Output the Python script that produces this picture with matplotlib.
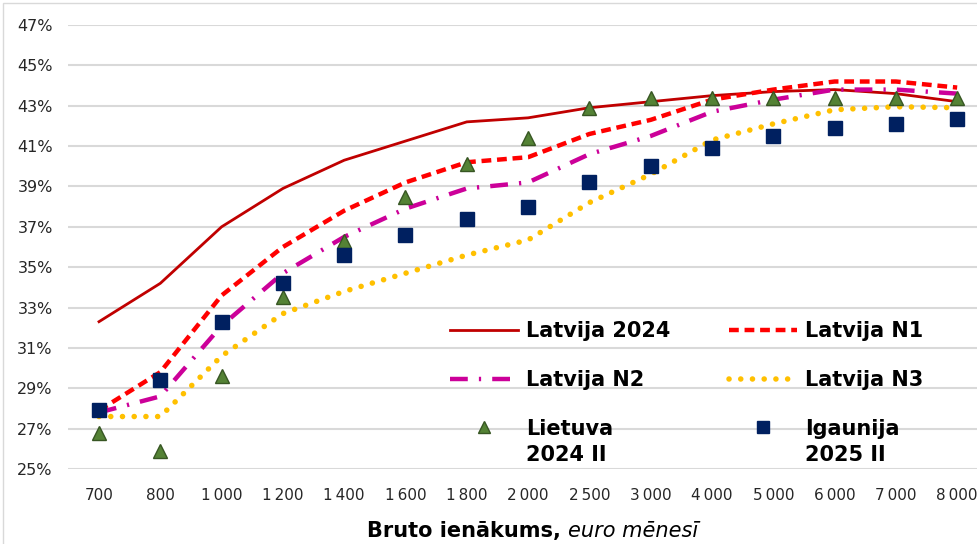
import numpy as np
import matplotlib.pyplot as plt
from matplotlib.patches import Rectangle

# Categories (gross income, euro per month)
incomes = ["700", "800", "1\u2009000", "1\u2009200", "1\u2009400", "1\u2009600", "1\u2009800", "2\u2009000",
           "2\u2009500", "3\u2009000", "4\u2009000", "5\u2009000", "6\u2009000", "7\u2009000", "8\u2009000"]

# Tax wedge, %
latvija_2024 = [32.3, 34.2, 37.0, 38.9, 40.3, 41.25, 42.2, 42.4, 42.9, 43.2, 43.5, 43.7, 43.8, 43.6, 43.2]
latvija_n1 = [27.9, 29.8, 33.6, 36.0, 37.8, 39.2, 40.2, 40.45, 41.6, 42.3, 43.3, 43.8, 44.2, 44.2, 43.9]
latvija_n2 = [27.8, 28.6, 32.1, 34.7, 36.5, 37.9, 38.9, 39.2, 40.6, 41.5, 42.7, 43.3, 43.8, 43.8, 43.6]
latvija_n3 = [27.6, 27.6, 30.6, 32.7, 33.8, 34.7, 35.6, 36.35, 38.2, 39.6, 41.3, 42.1, 42.8, 42.95, 42.9]
lietuva_2024 = [26.8, 25.9, 29.6, 33.5, 36.3, 38.5, 40.1, 41.4, 42.9, 43.4, 43.4, 43.4, 43.4, 43.4, 43.4]
igaunija_2025 = [27.9, 29.4, 32.3, 34.2, 35.6, 36.6, 37.4, 38.0, 39.2, 40.0, 40.9, 41.5, 41.9, 42.1, 42.35]

x = np.arange(len(incomes))

fig = plt.figure(figsize=(9.78, 5.44), dpi=100)
ax = fig.add_axes([68 / 978, 1 - 469 / 544, 910 / 978, 444 / 544])

l1, = ax.plot(x, latvija_2024, color="#C00000", lw=2, label="Latvija 2024")
l2, = ax.plot(x, latvija_n1, color="#FF0000", lw=3.2, dashes=(2.2, 1.3), label="Latvija N1")
l3, = ax.plot(x, latvija_n2, color="#CC0099", lw=3.2, dashes=(4, 2.5, 0.5, 2.5), label="Latvija N2")
l4, = ax.plot(x, latvija_n3, color="#FFC000", lw=4, dashes=(0.01, 2.1), dash_capstyle="round",
              label="Latvija N3")
m1, = ax.plot(x, lietuva_2024, ls="none", marker="^", ms=10, color="#548235",
              mec="#375623", mew=1, label="Lietuva")
m2, = ax.plot(x, igaunija_2025, ls="none", marker="s", ms=10, color="#002060",
              mec="#002060", label="Igaunija")

ax.set_xlim(-0.506, 14.34)
ax.set_ylim(25, 47)
ax.set_yticks(np.arange(25, 48, 2))
ax.set_yticklabels([f"{v}%" for v in range(25, 48, 2)])
ax.set_xticks(x)
ax.set_xticklabels(incomes)
ax.grid(axis="y", color="#D9D9D9", lw=1.5)
ax.set_axisbelow(True)
for s in ax.spines.values():
    s.set_visible(False)
ax.tick_params(length=0, colors="#262626")
ax.tick_params(axis="x", pad=14, labelsize=11)
ax.tick_params(axis="y", pad=11, labelsize=11.5)

leg = ax.legend(handles=[l1, l3, m1, l2, l4, m2], ncol=2, frameon=False,
                loc="upper left", bbox_to_anchor=(0.4198, 0.333),
                prop={"weight": "bold", "size": 15}, handlelength=3.27,
                handletextpad=0.38, columnspacing=2.8, labelspacing=1.38,
                borderpad=0, borderaxespad=0, markerscale=0.8)

# second line of the two marker entries (drawn after the legend)
for t, extra in zip(leg.get_texts()[2::3], ["2024 II", "2025 II"]):
    ax.annotate(extra, xy=(0, 0), xycoords=t, xytext=(0, -26), textcoords="offset pixels",
                ha="left", va="bottom", fontsize=15, weight="bold", zorder=6)

# x axis title: bold part + italic part
t1 = fig.text(568 / 978, 1 - 537 / 544, "Bruto ienākums, ", fontsize=15, weight="bold",
              ha="right", va="baseline")
ax.annotate("euro mēnesī", xy=(1, 0), xycoords=t1, va="bottom", ha="left",
            fontsize=15, style="italic")

fig.patches.append(Rectangle((3 / 978, -0.01), 1.1, 1 - 3 / 544 + 0.01, transform=fig.transFigure,
                             fill=False, ec="#D9D9D9", lw=1))

fig.savefig("out.png", dpi=100)
